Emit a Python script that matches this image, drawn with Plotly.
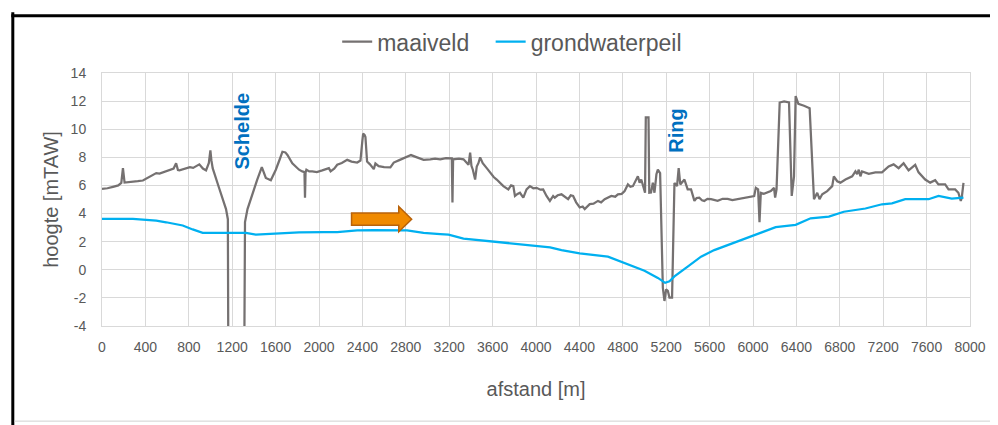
import plotly.graph_objects as go

# ---- data ----
maaiveld_x = [0, 50, 101, 150, 178, 193, 208, 250, 285, 330, 377, 410, 438, 470, 500, 530, 561, 590, 622, 660,
              683, 700, 714, 745, 775, 810, 840, 867, 897, 930, 959, 985, 999, 1008, 1020, 1080, 1143, 1160, 1165,
              1310, 1318, 1341, 1387, 1430, 1473, 1490, 1510, 1556, 1602, 1640, 1663, 1690, 1709, 1754, 1790, 1816,
              1846, 1866, 1871, 1876, 1884, 1910, 1938, 1980, 2030, 2091, 2107, 2140, 2168, 2210, 2260, 2300, 2352,
              2382, 2400, 2407, 2420, 2428, 2443, 2470, 2505, 2520, 2550, 2600, 2658, 2689, 2740, 2781, 2848, 2903,
              2964, 3025, 3070, 3117, 3170, 3224, 3230, 3236, 3290, 3332, 3378, 3393, 3405, 3418, 3439, 3454, 3470,
              3485, 3500, 3509, 3546, 3577, 3610, 3638, 3670, 3699, 3745, 3770, 3791, 3806, 3830, 3852, 3883, 3913,
              3944, 3975, 4005, 4040, 4066, 4097, 4128, 4158, 4173, 4200, 4235, 4270, 4296, 4320, 4342, 4370, 4403,
              4430, 4449, 4495, 4530, 4571, 4600, 4633, 4660, 4694, 4730, 4755, 4790, 4817, 4847, 4870, 4893, 4920,
              4939, 4955, 4970, 4990, 5005, 5012, 5037, 5044, 5060, 5077, 5092, 5110, 5123, 5144, 5169, 5184, 5199,
              5215, 5230, 5254, 5276, 5300, 5315, 5330, 5350, 5368, 5398, 5429, 5460, 5480, 5505, 5530, 5551, 5580,
              5613, 5640, 5674, 5720, 5766, 5810, 5858, 5900, 5949, 5980, 6011, 6026, 6047, 6060, 6072, 6100, 6133,
              6164, 6194, 6204, 6217, 6246, 6286, 6332, 6357, 6378, 6393, 6418, 6470, 6522, 6562, 6592, 6613, 6638,
              6684, 6730, 6745, 6776, 6806, 6852, 6914, 6944, 6960, 6975, 6990, 7005, 7067, 7128, 7189, 7250, 7296,
              7342, 7388, 7434, 7495, 7526, 7587, 7633, 7679, 7709, 7771, 7802, 7863, 7893, 7915, 7924, 7940]
maaiveld_y = [5.76, 5.8, 5.9, 6.0, 6.18, 7.23, 6.2, 6.22, 6.27, 6.3, 6.35, 6.5, 6.65, 6.75, 6.88, 6.85, 6.92, 7.0,
              7.07, 7.2, 7.58, 7.1, 7.07, 7.15, 7.23, 7.3, 7.25, 7.35, 7.5, 7.2, 7.07, 7.6, 8.5, 7.8, 7.23, 5.8, 4.32,
              3.6, -8, -8, 3.4, 4.32, 5.48, 6.4, 7.3, 6.9, 6.53, 6.37, 7.12, 7.9, 8.4, 8.35, 8.17, 7.58, 7.3, 7.12,
              7.0, 6.95, 5.13, 6.9, 7.12, 7.0, 7.0, 6.95, 7.07, 7.23, 7.0, 7.2, 7.47, 7.6, 7.82, 7.7, 7.63, 7.77, 9.2,
              9.68, 9.6, 9.45, 7.7, 7.5, 7.16, 7.56, 7.37, 7.3, 7.28, 7.63, 7.8, 7.93, 8.16, 8.0, 7.82, 7.86, 7.9,
              7.86, 7.95, 7.93, 4.78, 7.86, 7.9, 7.86, 7.47, 8.33, 7.4, 7.12, 6.42, 7.35, 7.6, 8.0, 7.7, 7.58, 7.23,
              6.88, 6.6, 6.42, 6.2, 5.95, 5.72, 6.0, 5.95, 5.25, 5.4, 5.48, 5.13, 5.72, 5.95, 5.8, 5.83, 5.7, 5.72,
              5.25, 4.9, 5.25, 5.13, 5.3, 5.37, 5.2, 5.02, 5.3, 5.25, 4.8, 4.43, 4.5, 4.32, 4.67, 4.7, 4.9, 4.8,
              5.02, 5.1, 5.25, 5.2, 5.37, 5.4, 5.6, 6.07, 5.9, 5.95, 6.3, 6.65, 6.2, 6.42, 5.9, 5.48, 10.85, 10.85,
              5.48, 5.5, 6.2, 5.48, 6.8, 7.12, 6.88, -1.28, -2.22, -1.4, -1.5, -1.98, -1.98, 6.18, 5.95, 7.23, 6.07,
              6.3, 6.42, 5.72, 5.72, 4.9, 5.1, 5.13, 4.95, 4.9, 5.05, 5.02, 4.95, 4.9, 5.05, 5.05, 4.95, 5.02, 5.1,
              5.13, 5.2, 5.25, 5.83, 5.72, 3.38, 5.48, 5.4, 5.48, 5.6, 5.83, 5.13, 5.72, 11.9, 11.98, 11.9, 5.25,
              6.65, 12.36, 11.8, 11.67, 11.5, 5.02, 5.48, 5.02, 5.37, 5.6, 5.95, 6.65, 6.3, 6.2, 6.42, 6.65, 7.0,
              6.8, 7.12, 6.65, 7.0, 6.83, 6.93, 6.93, 7.35, 7.5, 7.23, 7.58, 7.07, 7.47, 6.93, 6.42, 6.2, 6.37,
              6.07, 6.07, 5.72, 5.72, 5.48, 4.9, 5.13, 6.18]

grondwater_x = [0, 285, 407, 500, 591, 680, 744, 836, 928, 1143, 1326, 1418, 1571, 1816, 2046, 2168, 2352, 2505,
                2811, 2964, 3117, 3194, 3332, 3577, 3760, 3944, 4130, 4235, 4403, 4663, 4817, 5000, 5123, 5190,
                5230, 5276, 5398, 5521, 5643, 5766, 5949, 6087, 6209, 6393, 6531, 6699, 6837, 7036, 7189, 7281,
                7403, 7618, 7710, 7832, 7940]
grondwater_y = [3.62, 3.62, 3.55, 3.5, 3.38, 3.25, 3.15, 2.87, 2.63, 2.63, 2.63, 2.5, 2.56, 2.66, 2.68, 2.68, 2.8,
                2.82, 2.8, 2.63, 2.54, 2.5, 2.22, 2.03, 1.92, 1.76, 1.6, 1.4, 1.17, 0.93, 0.47, -0.07, -0.58, -0.93,
                -0.82, -0.47, 0.23, 0.93, 1.4, 1.76, 2.33, 2.68, 3.03, 3.2, 3.66, 3.78, 4.13, 4.36, 4.66, 4.73,
                5.02, 5.02, 5.25, 5.07, 5.13]

series_names = ["maaiveld", "grondwaterpeil"]
x_ticks = list(range(0, 8001, 400))
y_ticks = list(range(-4, 15, 2))
label_texts = ["Schelde", "Ring"]
label_x = [1290, 5291]
label_y = [9.9, 9.9]
arrow_x = [2300, 2735, 2854]   # body start, head base, tip
arrow_y = 3.6
arrow_half = [0.44, 0.9]       # body, head half-heights

FONT = "Liberation Sans, Arial, sans-serif"
GREY_TXT = "#595959"

# page has an 8px body margin: figure is drawn 8px right/down, so compensate
W, H = 990, 417
ML, MR, MT, MB = 94, 25, 60, 99
PW, PH = W - ML - MR, H - MT - MB


def px(xp):   # figure pixel x -> paper
    return (xp - ML) / PW


def py(yp):   # figure pixel y -> paper
    return (H - MB - yp) / PH


fig = go.Figure()
fig.add_trace(go.Scatter(x=maaiveld_x, y=maaiveld_y, mode="lines", name=series_names[0],
                         line=dict(color="#757171", width=2.25), legend="legend"))
fig.add_trace(go.Scatter(x=grondwater_x, y=grondwater_y, mode="lines", name=series_names[1],
                         line=dict(color="#00B0F0", width=2.25), legend="legend2"))

# orange arrow
b0, hb, tip = arrow_x
bh, hh = arrow_half
path = (f"M {b0},{arrow_y - bh} L {hb},{arrow_y - bh} L {hb},{arrow_y - hh} L {tip},{arrow_y} "
        f"L {hb},{arrow_y + hh} L {hb},{arrow_y + bh} L {b0},{arrow_y + bh} Z")
fig.add_shape(type="path", path=path, xref="x", yref="y", fillcolor="#F08A00",
              line=dict(color="#B8620A", width=1.5))

for t, xv, yv in zip(label_texts, label_x, label_y):
    fig.add_annotation(x=xv, y=yv, text=f"<b>{t}</b>", textangle=-90, showarrow=False,
                       font=dict(family=FONT, size=20, color="#0070C0"))

# frame of the screenshot
fig.add_shape(type="line", xref="paper", yref="paper", x0=px(4.5), x1=px(4.5), y0=py(H + 5), y1=py(-2),
              line=dict(color="black", width=3))
fig.add_shape(type="line", xref="paper", yref="paper", x0=px(3), x1=px(W + 5), y0=py(1.5), y1=py(1.5),
              line=dict(color="black", width=3))
fig.add_shape(type="line", xref="paper", yref="paper", x0=px(6), x1=px(W + 5), y0=py(415), y1=py(415),
              line=dict(color="#D0D0D0", width=1))

leg_common = dict(orientation="h", xanchor="left", y=py(28), yanchor="middle",
                  font=dict(family=FONT, size=23, color=GREY_TXT), itemwidth=30, bgcolor="rgba(0,0,0,0)")

fig.update_layout(
    width=W, height=H,
    margin=dict(l=ML, r=MR, t=MT, b=MB, pad=0),
    paper_bgcolor="white", plot_bgcolor="white",
    font=dict(family=FONT, color=GREY_TXT),
    showlegend=True,
    legend=dict(x=px(330), **leg_common),
    legend2=dict(x=px(484), **leg_common),
    xaxis=dict(range=[0, 8000], tickvals=x_ticks, ticktext=[str(v) for v in x_ticks],
               showgrid=True, gridcolor="#D9D9D9", gridwidth=1, zeroline=False,
               showline=True, linecolor="#D9D9D9", mirror=True,
               tickfont=dict(size=14, color=GREY_TXT), ticklabelstandoff=8,
               title=dict(text="afstand [m]", font=dict(size=20, color=GREY_TXT), standoff=28)),
    yaxis=dict(range=[-4, 14], tickvals=y_ticks, ticktext=[str(v) for v in y_ticks],
               showgrid=True, gridcolor="#D9D9D9", gridwidth=1, zeroline=False,
               showline=True, linecolor="#D9D9D9", mirror=True,
               tickfont=dict(size=14, color=GREY_TXT), ticklabelstandoff=12,
               title=dict(text="hoogte [mTAW]", font=dict(size=20, color=GREY_TXT), standoff=6)),
)

fig.write_html("out.html")
